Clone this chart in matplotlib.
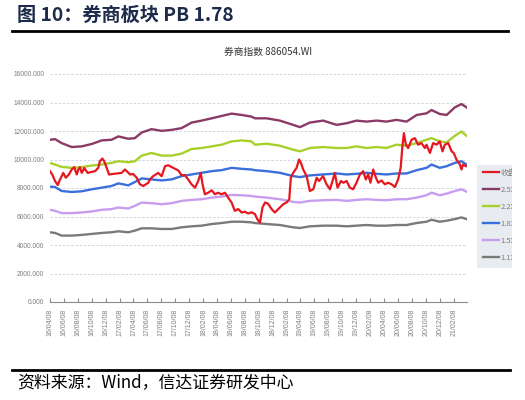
import pandas as pd
import matplotlib
matplotlib.use("Agg")
import matplotlib.pyplot as plt
from matplotlib.patches import Rectangle
from matplotlib.transforms import Bbox

plt.rcParams['font.family'] = ['Noto Sans CJK SC', 'DejaVu Sans']

# PB band dates and values
band_dates = ['2016-04-08', '2016-04-30', '2016-05-29', '2016-07-12', '2016-08-24', '2016-10-07',
              '2016-11-20', '2017-01-02', '2017-02-01', '2017-03-16', '2017-04-14', '2017-05-14',
              '2017-06-26', '2017-08-09', '2017-09-22', '2017-11-04', '2017-12-18', '2018-01-31',
              '2018-03-16', '2018-04-28', '2018-06-11', '2018-07-25', '2018-09-06', '2018-09-21',
              '2018-11-11', '2019-01-08', '2019-03-07', '2019-04-06', '2019-05-19', '2019-07-16',
              '2019-09-13', '2019-10-27', '2019-12-09', '2020-01-22', '2020-03-06', '2020-04-18',
              '2020-06-01', '2020-07-15', '2020-08-28', '2020-10-10', '2020-11-01', '2020-12-07',
              '2021-01-06', '2021-02-11', '2021-03-12', '2021-04-03']

pb_25 = [11385, 11430, 11150, 10875, 10920, 11085, 11340, 11385, 11620, 11455, 11500, 11895,
         12130, 12010, 12080, 12200, 12590, 12730, 12890, 13055, 13220, 13125, 13010, 12890,
         12890, 12730, 12430, 12270, 12590, 12730, 12430, 12545, 12730, 12660, 12730, 12660,
         12780, 12660, 13125, 13240, 13470, 13195, 13125, 13660, 13890, 13660]
pb_22 = [9762, 9646, 9484, 9414, 9460, 9577, 9646, 9762, 9878, 9809, 9878, 10272,
         10458, 10272, 10272, 10411, 10736, 10806, 10922, 11038, 11270, 11340, 11270, 11038,
         11107, 10968, 10690, 10574, 10806, 10875, 10806, 10806, 10922, 10806, 10875, 10806,
         11038, 10968, 11154, 11385, 11500, 11270, 11200, 11664, 11965, 11664]
pb_18 = [8093, 8070, 7791, 7722, 7768, 7907, 8023, 8139, 8325, 8186, 8418, 8672,
         8603, 8533, 8603, 8835, 8950, 9066, 9182, 9252, 9414, 9345, 9298, 9252,
         9182, 9066, 8835, 8765, 8881, 8950, 9020, 8950, 8997, 9066, 8997, 8950,
         9020, 9020, 9252, 9414, 9646, 9414, 9530, 9762, 9878, 9646]
pb_15 = [6469, 6400, 6237, 6237, 6284, 6353, 6469, 6516, 6632, 6562, 6748, 6980,
         6933, 6864, 6933, 7095, 7165, 7211, 7327, 7397, 7513, 7490, 7443, 7397,
         7327, 7211, 7026, 6980, 7095, 7142, 7165, 7095, 7165, 7211, 7165, 7142,
         7211, 7211, 7327, 7490, 7675, 7490, 7606, 7791, 7907, 7745]
pb_11 = [4892, 4846, 4660, 4660, 4707, 4776, 4846, 4892, 4962, 4892, 5008, 5170,
         5170, 5124, 5124, 5240, 5310, 5356, 5472, 5542, 5634, 5634, 5588, 5542,
         5472, 5403, 5240, 5194, 5310, 5356, 5356, 5310, 5356, 5403, 5356, 5356,
         5403, 5403, 5542, 5634, 5773, 5634, 5704, 5820, 5936, 5820]

# Index close (red line)
close_dates = ['2016-04-08', '2016-04-18', '2016-04-30', '2016-05-12', '2016-05-22', '2016-06-05',
               '2016-06-16', '2016-06-30', '2016-07-12', '2016-07-23', '2016-08-03', '2016-08-10',
               '2016-08-17', '2016-08-25', '2016-09-05', '2016-09-20', '2016-10-07', '2016-10-22',
               '2016-11-05', '2016-11-12', '2016-11-23', '2016-12-01', '2016-12-12', '2016-12-22',
               '2017-01-17', '2017-02-15', '2017-03-02', '2017-03-24', '2017-04-07', '2017-04-22',
               '2017-05-06', '2017-05-21', '2017-06-12', '2017-06-19', '2017-07-03', '2017-07-25',
               '2017-08-09', '2017-08-24', '2017-09-07', '2017-09-29', '2017-10-21', '2017-11-04',
               '2017-11-19', '2017-12-03', '2017-12-18', '2018-01-02', '2018-01-16', '2018-01-27',
               '2018-02-04', '2018-02-14', '2018-03-01', '2018-03-16', '2018-03-30', '2018-04-13',
               '2018-04-28', '2018-05-13', '2018-05-27', '2018-06-11', '2018-06-25', '2018-07-10',
               '2018-07-25', '2018-08-08', '2018-08-23', '2018-09-06', '2018-09-21', '2018-10-01',
               '2018-10-13', '2018-10-24', '2018-11-04', '2018-11-17', '2018-12-03', '2018-12-17',
               '2019-01-08', '2019-01-23', '2019-02-06', '2019-02-18', '2019-02-25', '2019-03-07',
               '2019-03-22', '2019-04-02', '2019-04-10', '2019-04-20', '2019-05-05', '2019-05-19',
               '2019-06-03', '2019-06-18', '2019-06-28', '2019-07-16', '2019-07-31', '2019-08-15',
               '2019-08-26', '2019-09-05', '2019-09-17', '2019-10-02', '2019-10-12', '2019-10-27',
               '2019-11-10', '2019-11-24', '2019-12-09', '2019-12-24', '2020-01-07', '2020-01-19',
               '2020-01-29', '2020-02-08', '2020-02-20', '2020-03-03', '2020-03-13', '2020-03-27',
               '2020-04-11', '2020-04-25', '2020-05-10', '2020-05-25', '2020-06-08', '2020-06-19',
               '2020-06-26', '2020-07-03', '2020-07-12', '2020-07-22', '2020-08-06', '2020-08-20',
               '2020-09-03', '2020-09-18', '2020-10-03', '2020-10-10', '2020-10-25', '2020-11-08',
               '2020-11-23', '2020-12-07', '2020-12-19', '2020-12-29', '2021-01-13', '2021-01-28',
               '2021-02-06', '2021-02-18', '2021-03-05', '2021-03-12', '2021-03-19', '2021-03-31']
close = [9180, 8950, 8490, 8210, 8600, 9060, 8720, 8950, 9300, 9460, 8950, 9300,
         9460, 9060, 9400, 9060, 9130, 9180, 9410, 9880, 10070, 9880, 9410, 8950,
         9000, 9060, 9300, 8950, 8980, 8720, 8260, 8140, 8370, 8600, 8830, 9060,
         8830, 9530, 9600, 9410, 9230, 8900, 8900, 8600, 8260, 8020, 8490, 9060,
         8260, 7560, 7670, 7840, 7560, 7670, 7560, 7670, 7320, 6980, 6400, 6520,
         6280, 6330, 6210, 6300, 6170, 5820, 5560, 6630, 6980, 6900, 6520, 6280,
         6630, 6870, 6980, 7210, 8720, 9060, 9410, 10000, 9760, 9300, 8830, 7790,
         7910, 8720, 8490, 8830, 8260, 7910, 8490, 9060, 8020, 8490, 8370, 8490,
         8020, 7910, 8370, 8950, 9180, 8600, 8950, 8370, 9300, 8720, 8370, 8530,
         8260, 8370, 8260, 8070, 8600, 9410, 10800, 11850, 11040, 10800, 11390, 11500,
         11040, 11150, 10800, 11040, 10460, 11150, 11040, 11270, 10570, 11040, 11150, 10570,
         10460, 10000, 9650, 9300, 9650, 9530]

series_labels = ['收盘', '2.5X', '2.2X', '1.8X', '1.5X', '1.1X']
series_colors = ['#e5171f', '#8a3a66', '#a8d02c', '#3b6fdc', '#c89ded', '#7a7a7a']

y_ticks = [0, 2000, 4000, 6000, 8000, 10000, 12000, 14000, 16000]
x_ticks = pd.date_range('2016-04-01', '2021-02-01', freq='2MS') + pd.Timedelta(days=7)

fig = plt.figure(figsize=(5.25, 4), dpi=100)
ax = fig.add_axes([0.0952, 0.245, 0.7943, 0.57])

bd = pd.to_datetime(band_dates)
ax.plot(pd.to_datetime(close_dates), close, color=series_colors[0], lw=1.6, label=series_labels[0], zorder=5)
for vals, lab, col in zip([pb_25, pb_22, pb_18, pb_15, pb_11], series_labels[1:], series_colors[1:]):
    ax.plot(bd, vals, color=col, lw=1.7, label=lab)

ax.set_ylim(0, 16000)
ax.set_xlim(pd.Timestamp('2016-04-08'), pd.Timestamp('2021-04-05'))
ax.set_yticks(y_ticks)
ax.set_yticklabels(['%.3f' % v for v in y_ticks], family='Liberation Sans', fontsize=4.8, color='#7f7f7f')
ax.set_xticks(x_ticks)
ax.set_xticklabels([d.strftime('%y/%m/%d') for d in x_ticks], rotation=90,
                   family='Liberation Sans', fontsize=5, color='#7f7f7f')
ax.tick_params(axis='y', length=0, pad=4)
ax.tick_params(axis='x', direction='in', length=3, color='#8c8c8c', pad=5)
ax.yaxis.grid(True, ls=(0, (3, 2)), color='#c9d2de', lw=0.6)
for s in ['top', 'right', 'left']:
    ax.spines[s].set_visible(False)
ax.spines['bottom'].set_color('#8c8c8c')
ax.set_axisbelow(True)

# Legend: grey box on the right (drawn under the axes), labels cut off at the box edge
fig.add_artist(Rectangle((0.908, 0.33), 0.0667, 0.2575, transform=fig.transFigure,
                         facecolor='#e8ebf0', edgecolor='none', zorder=-1))
leg = ax.legend(loc='upper left', bbox_to_anchor=(0.912, 0.5875), bbox_transform=fig.transFigure,
                fontsize=5.5, handlelength=2.2, labelspacing=1.18, borderpad=0.0,
                handletextpad=0.15, frameon=False)
clip = Bbox.from_extents(476, 0, 511.5, 400)
for t in leg.get_texts():
    t.set_color('#7f7f7f')
    t.set_clip_box(clip)
    t.set_clip_on(True)

# Titles and source note
fig.text(0.033, 0.962, '图 10：券商板块 PB 1.78', fontsize=13.8, fontweight='bold',
         color='#1c2b4b', va='center', ha='left')
fig.add_artist(plt.Line2D([0.023, 0.968], [0.922, 0.922], color='black', lw=2))
fig.text(0.511, 0.87, '券商指数 886054.WI', fontsize=7, color='#333333', ha='center', va='center')
fig.add_artist(plt.Line2D([0.023, 0.972], [0.075, 0.075], color='black', lw=2))
fig.text(0.033, 0.043, '资料来源：Wind，信达证券研发中心', fontsize=12.2, color='black',
         va='center', ha='left')

fig.savefig('out.png', dpi=100)
